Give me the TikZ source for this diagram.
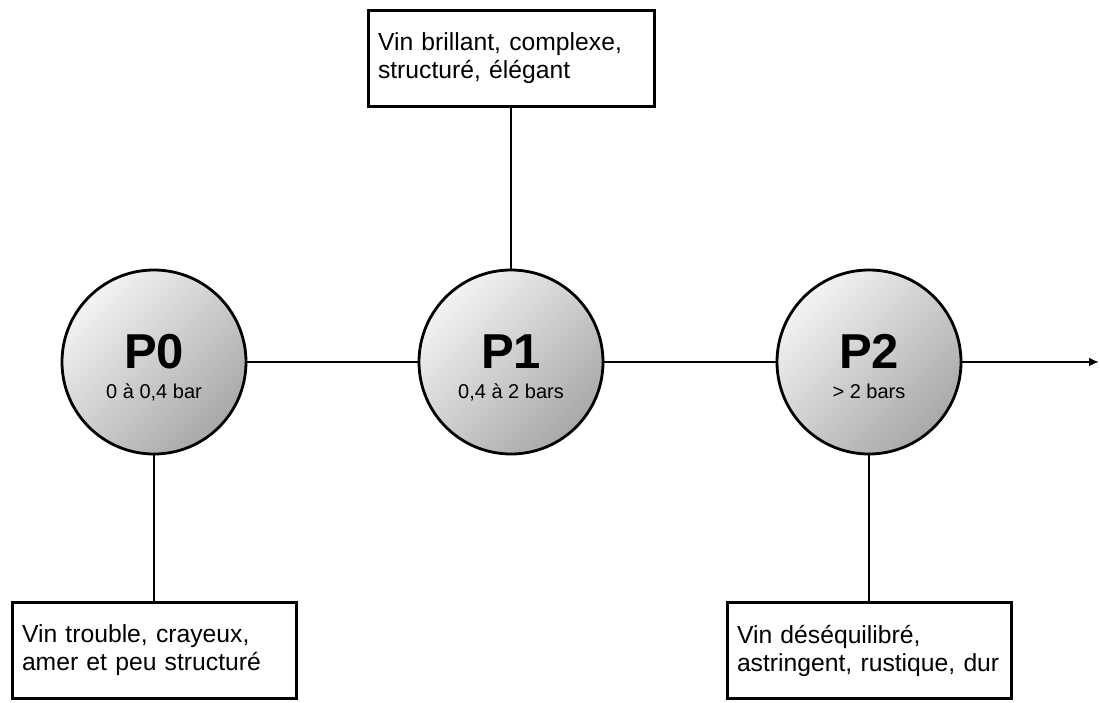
\documentclass[tikz,border=0pt]{standalone}
\usepackage{fontspec}
\setmainfont{Liberation Sans}
\usetikzlibrary{arrows.meta}
\definecolor{shadelight}{HTML}{F3F3F3}
\definecolor{shademid}{HTML}{DDDDDD}
\definecolor{shadedark}{HTML}{A8A8A8}
\tikzset{
  conn/.style={line width=2.8pt, draw=black},
  pnode/.style={circle, draw=black, line width=2.8pt, minimum size=184pt, inner sep=0pt,
    shading=axis, top color=shadelight, middle color=shademid, bottom color=shadedark, shading angle=45},
  ptitle/.style={inner sep=0pt, font=\fontsize{49}{49}\selectfont\bfseries},
  psub/.style={inner sep=0pt, font=\fontsize{20}{24}\selectfont},
  descbox/.style={rectangle, draw=black, line width=3pt, fill=white, minimum height=96pt,
    inner xsep=9pt, inner ysep=0pt, align=left,
    font=\fontsize{24.7}{28}\selectfont}
}
\begin{document}
\begin{tikzpicture}[x=1pt,y=-1pt]
\useasboundingbox (0,0) rectangle (1100,702);
% circles
\node[pnode] (p0) at (154,362) {};
\node[pnode] (p1) at (511,362) {};
\node[pnode] (p2) at (869,362) {};
\node[ptitle, anchor=base] (p0t) at (154,368) {P0};
\node[psub, anchor=base] (p0s) at (154,398) {0 à 0,4 bar};
\node[ptitle, anchor=base] (p1t) at (511,368) {P1};
\node[psub, anchor=base] (p1s) at (511,398) {0,4 à 2 bars};
\node[ptitle, anchor=base] (p2t) at (869,368) {P2};
\node[psub, anchor=base] (p2s) at (869,398) {> 2 bars};
% boxes
\node[descbox, minimum width=286pt, text width=266pt] (top) at (511,58)
  {Vin brillant, complexe,\\structuré, élégant};
\node[descbox, minimum width=284pt, text width=264pt] (bl) at (154,650.5)
  {Vin trouble, crayeux,\\amer et peu structuré};
\node[descbox, minimum width=284pt, text width=264pt] (br) at (869,650.5)
  {Vin déséquilibré,\\astringent, rustique, dur};
\coordinate (end) at (1099,362);
% connectors
\draw[conn] (p0) -- (p1);
\draw[conn] (p1) -- (p2);
\draw[conn, -{Latex[length=10pt, width=9pt]}] (p2) -- (end);
\draw[conn] (top) -- (p1);
\draw[conn] (p0) -- (bl);
\draw[conn] (p2) -- (br);
\end{tikzpicture}
\end{document}
